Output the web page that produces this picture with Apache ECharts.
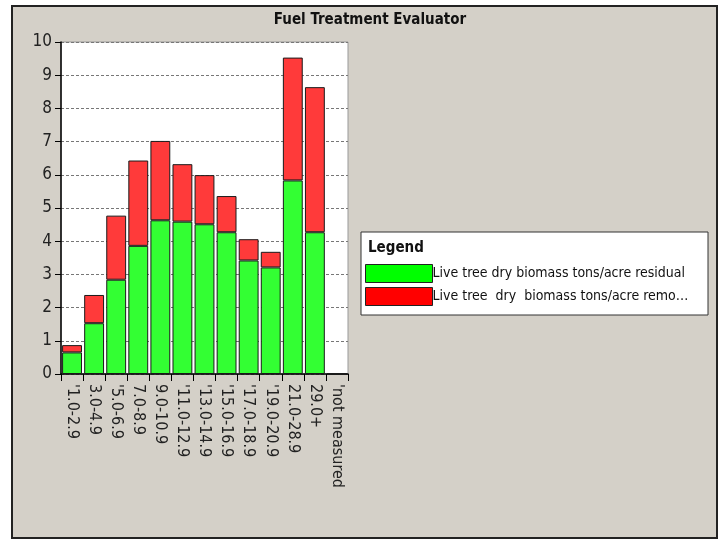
<!DOCTYPE html>
<html>
<head>
<meta charset="utf-8">
<script src="https://cdn.jsdelivr.net/npm/echarts@6/dist/echarts.min.js"></script>
<style>
  html, body { margin: 0; padding: 0; background: #fff; }
  #chart { width: 722px; height: 540px; }
</style>
</head>
<body>
<div id="chart"></div>
<script>
// 直径分级
const categories = ["'1.0-2.9", "3.0-4.9", "'5.0-6.9", "7.0-8.9", "9.0-10.9", "'11.0-12.9",
  "'13.0-14.9", "'15.0-16.9", "'17.0-18.9", "'19.0-20.9", "21.0-28.9", "29.0+", "'not measured"]
const residual = [0.65, 1.53, 2.84, 3.86, 4.63, 4.59, 4.51, 4.27, 3.42, 3.21, 5.83, 4.27, 0]
const removed = [0.22, 0.85, 1.93, 2.57, 2.39, 1.73, 1.48, 1.09, 0.64, 0.47, 3.70, 4.37, 0]
const yTicks = [0, 1, 2, 3, 4, 5, 6, 7, 8, 9, 10]
const seriesNames = ['Live tree dry biomass tons/acre residual', 'Live tree dry biomass tons/acre removed']
const legendLabels = ['Live tree dry biomass tons/acre residual', 'Live tree  dry  biomass tons/acre remo\u2026']

const narrow = '"Liberation Sans Narrow", "DejaVu Sans Condensed", Arial, sans-serif'
const myChart = echarts.init(document.getElementById('chart'))

const option = {
  animation: false,
  backgroundColor: '#ffffff',
  title: {
    text: 'Fuel Treatment Evaluator',
    left: 365,
    top: 8,
    textAlign: 'center',
    textStyle: { fontFamily: narrow, fontSize: 15, fontWeight: 'bold', color: '#111' }
  },
  graphic: [
    {
      type: 'rect', z: -10,
      shape: { x: 12, y: 6, width: 705, height: 532 },
      style: { fill: '#d4d0c8', stroke: '#222', lineWidth: 2 }
    },
    {
      type: 'rect', z: -1,
      shape: { x: 361, y: 232, width: 347, height: 83 },
      style: { fill: '#ffffff', stroke: '#333', lineWidth: 1 }
    },
    {
      type: 'text', z: 5,
      left: 368, top: 241,
      style: { text: 'Legend', fontFamily: narrow, fontSize: 15, fontWeight: 'bold', fill: '#111' }
    }
  ],
  legend: {
    orient: 'vertical',
    left: 365,
    top: 264,
    itemWidth: 67,
    itemHeight: 18,
    itemGap: 4,
    icon: 'rect',
    padding: 0,
    data: [
      { name: seriesNames[0], itemStyle: { color: '#00ff00', borderColor: '#222', borderWidth: 1 } },
      { name: seriesNames[1], itemStyle: { color: '#ff0000', borderColor: '#222', borderWidth: 1 } }
    ],
    formatter: (name) => legendLabels[seriesNames.indexOf(name)],
    textStyle: { fontFamily: narrow, fontSize: 14, color: '#111', padding: [0, 0, 0, -5] }
  },
  grid: {
    left: 61,
    right: 374,
    top: 42,
    bottom: 166,
    show: true,
    backgroundColor: '#ffffff',
    borderColor: '#999',
    borderWidth: 1
  },
  xAxis: {
    type: 'category',
    data: categories,
    axisLine: { lineStyle: { color: '#000', width: 1.5 } },
    axisTick: { show: true, length: 7, lineStyle: { color: '#000' } },
    axisLabel: {
      rotate: -90,
      interval: 0,
      margin: 10,
      fontFamily: narrow,
      fontSize: 16,
      color: '#222'
    }
  },
  yAxis: {
    type: 'value',
    min: yTicks[0],
    max: yTicks[yTicks.length - 1],
    interval: 1,
    axisLine: { show: true, lineStyle: { color: '#000', width: 1.5 } },
    axisTick: { show: true, length: 6, lineStyle: { color: '#000' } },
    axisLabel: { fontFamily: narrow, fontSize: 17, color: '#222', margin: 9 },
    splitLine: { lineStyle: { type: [3, 2], color: '#777' } }
  },
  series: [
    {
      name: seriesNames[0],
      type: 'bar',
      stack: 'total',
      data: residual,
      barCategoryGap: '10%',
      itemStyle: { color: '#33ff33', borderColor: '#1a1a1a', borderWidth: 1 }
    },
    {
      name: seriesNames[1],
      type: 'bar',
      stack: 'total',
      data: removed,
      barCategoryGap: '10%',
      itemStyle: { color: '#ff3a3a', borderColor: '#1a1a1a', borderWidth: 1 }
    }
  ]
}

myChart.setOption(option)
window.addEventListener('resize', myChart.resize)
</script>
</body>
</html>
